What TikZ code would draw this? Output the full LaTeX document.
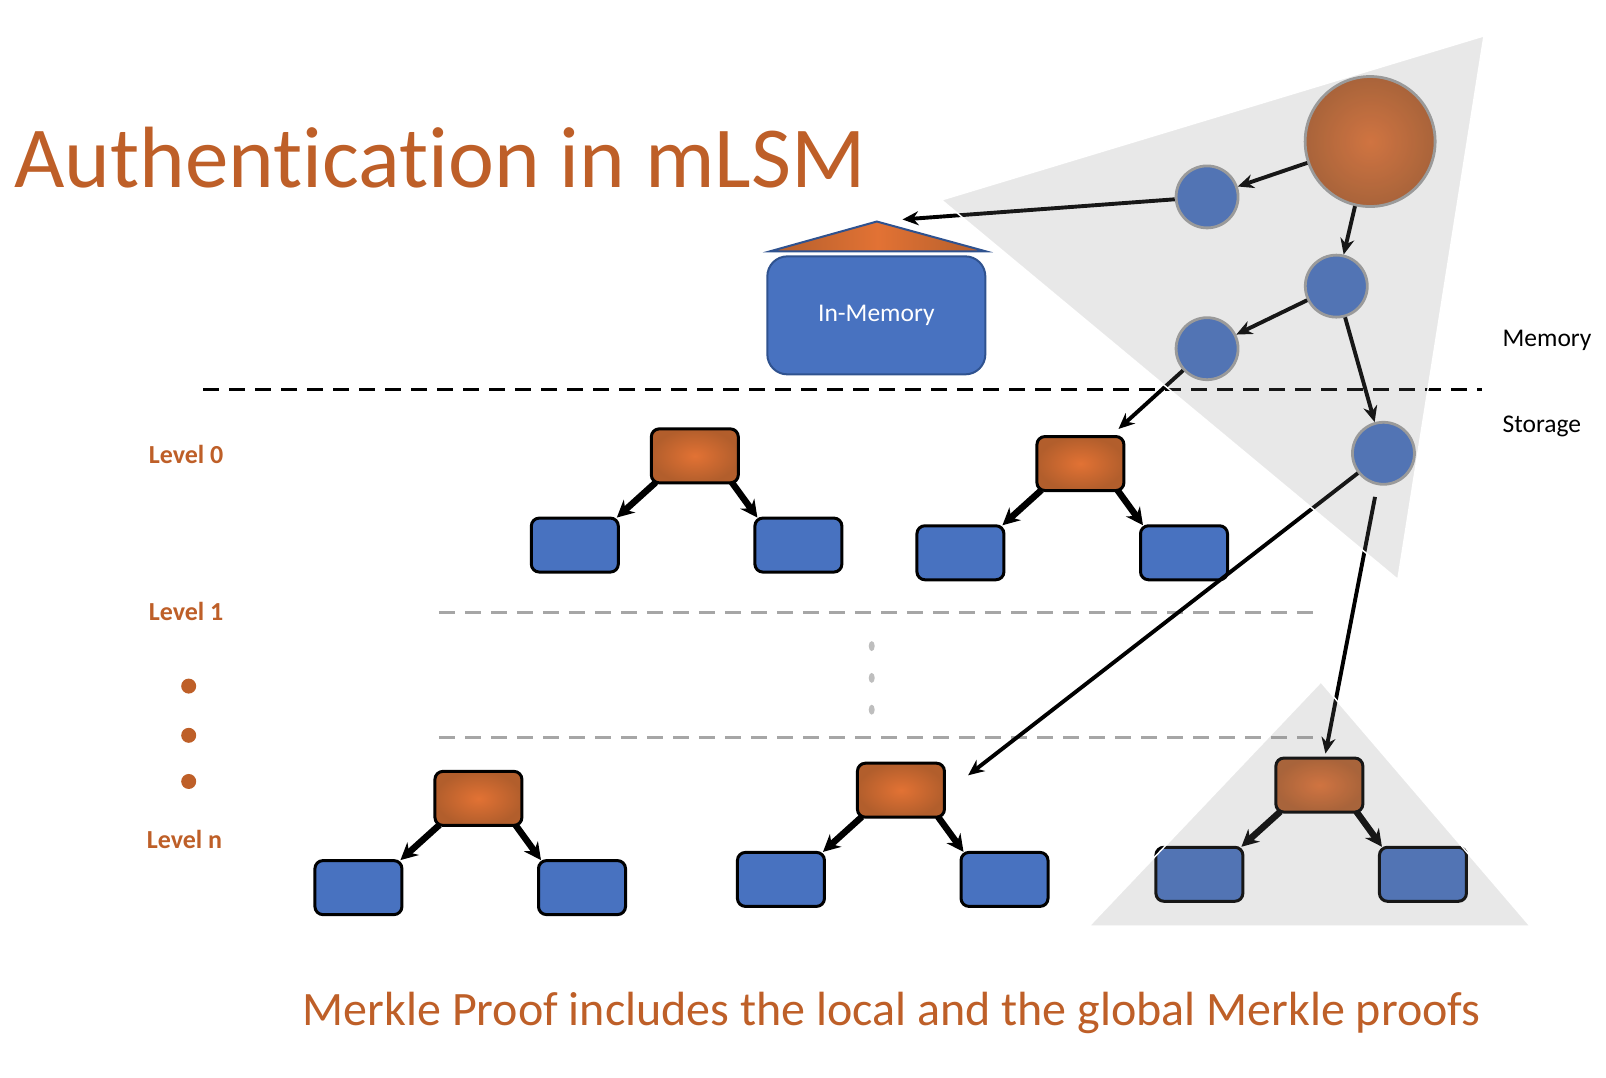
\documentclass[tikz,border=0pt]{standalone}
\usepackage{fontspec}
\setmainfont{Carlito}[Ligatures=NoCommon]
\usetikzlibrary{arrows.meta,calc,shapes.geometric}
\definecolor{morange}{RGB}{190,95,40}
\definecolor{mblue}{RGB}{72,114,192}
\definecolor{mborder}{RGB}{47,82,143}
\definecolor{cgray}{RGB}{160,160,160}
\definecolor{oin}{RGB}{226,114,52}
\definecolor{oout}{RGB}{178,94,44}
\definecolor{dgray}{RGB}{166,166,166}
\definecolor{lgray}{RGB}{190,190,190}
\newcommand\mtree[2]{%
  \node[troot] (#1r) at #2 {};
  \node[leaf] (#1a) at ($#2+(-117,87)$) {};
  \node[leaf] (#1b) at ($#2+(101,87)$) {};
  \draw[tarr] ($(#1r.south west)+(6pt,2pt)$) -- ($(#1a.north east)+(-3pt,-1pt)$);
  \draw[tarr] ($(#1r.south east)+(-8pt,2pt)$) -- ($(#1b.north west)+(4pt,-1pt)$);
}
\tikzset{
  leaf/.style={rectangle, rounded corners=8pt, draw=black, line width=3pt, fill=mblue, minimum width=87pt, minimum height=54pt, inner sep=0pt},
  troot/.style={rectangle, rounded corners=8pt, draw=black, line width=3pt, inner color=oin, outer color=oout, minimum width=87pt, minimum height=54pt, inner sep=0pt},
  bnode/.style={circle, draw=cgray, line width=2.8pt, fill=mblue, minimum size=62pt, inner sep=0pt},
  rootc/.style={circle, draw=cgray, line width=2.8pt, inner color=oin, outer color=oout, minimum size=130pt, inner sep=0pt},
  parr/.style={-{Stealth[length=16pt,width=14pt]}, line width=3.9pt, black},
  tarr/.style={-{Stealth[length=17pt,width=17pt]}, line width=6.5pt, black},
  shadetri/.style={fill=gray, fill opacity=0.18, draw=white, line width=1.4pt},
  lvl/.style={anchor=base west, font=\bfseries\fontsize{26}{26}\selectfont, text=morange, inner sep=0pt},
  side/.style={anchor=base west, font=\fontsize{25.5}{25.5}\selectfont, text=black, inner sep=0pt},
  odot/.style={circle, fill=morange, minimum size=15pt, inner sep=0pt},
  gdot/.style={ellipse, fill=lgray, minimum width=6pt, minimum height=10pt, inner sep=0pt},
  mdash/.style={line width=3.4pt, dash pattern=on 16pt off 10pt},
}
\begin{document}
\begin{tikzpicture}[x=1.0255pt,y=-1.0255pt]
\useasboundingbox (0,0) rectangle (1566,1051);
% title
\node[anchor=base west, inner sep=0pt, font=\fontsize{87}{87}\selectfont, text=morange] (title) at (14,183) {Authentication in mLSM};
% memory / storage divider
\coordinate (d1) at (198,380);
\coordinate (d2) at (1445,380);
\draw[mdash, black] (d1) -- (d2);
\node[side] (memlbl) at (1465,338) {Memory};
\node[side] (stolbl) at (1465,422) {Storage};
% in-memory component
\node[rectangle, rounded corners=20pt, fill=mblue, draw=mborder, line width=2pt, minimum width=218pt, minimum height=118pt, text=white, font=\fontsize{25.5}{25.5}\selectfont] (mem) at (854.5,307.5) {In-Memory};
\coordinate (apex) at (855,216);
\coordinate (tl) at (751,245);
\coordinate (tr) at (961,245);
\shade[left color=oout, right color=oout, middle color=oin, draw=mborder, line width=2pt] (tl) -- (apex) -- (tr) -- cycle;
\coordinate (memtip) at (880,214);
% global tree
\node[rootc] (R) at (1336,138) {};
\node[bnode] (A) at (1177,192) {};
\node[bnode] (B) at (1303,279) {};
\node[bnode] (C) at (1177,340) {};
\node[bnode] (D) at (1349,442) {};
% level labels
\node[lvl] (l0) at (145,452) {Level 0};
\node[lvl] (l1) at (145,605) {Level 1};
\node[lvl] (ln) at (143,827) {Level n};
\node[odot] (o1) at (184,669) {};
\node[odot] (o2) at (184,717) {};
\node[odot] (o3) at (184,762) {};
% gray dashed lines
\coordinate (g1a) at (428,597);
\coordinate (g1b) at (1283,597);
\coordinate (g2a) at (428,719);
\coordinate (g2b) at (1283,719);
\draw[mdash, dgray] (g1a) -- (g1b);
\draw[mdash, dgray] (g2a) -- (g2b);
\node[gdot] (v1) at (850,630) {};
\node[gdot] (v2) at (850,661) {};
\node[gdot] (v3) at (850,692) {};
% trees
\mtree{p}{(677.5,444.5)}
\mtree{q}{(1053.5,452)}
\mtree{s}{(466.5,778.5)}
\mtree{t}{(878.5,770.5)}
\mtree{u}{(1286.5,765.5)}
\coordinate (ttip) at (944,756);
% proof arrows
\draw[parr] (R) -- (A);
\draw[parr] (A) -- (memtip);
\draw[parr] (R) -- (B);
\draw[parr] (B) -- (C);
\draw[parr] (B) -- (D);
\draw[parr, shorten >=9pt] (C) -- (qr);
\draw[parr] (D) -- (ttip);
\draw[parr, shorten <=12pt, shorten >=3pt] (D) -- (ur);
% shaded proof regions
\coordinate (b1) at (918,195);
\coordinate (b2) at (1447,35);
\coordinate (b3) at (1363,565);
\draw[shadetri] (b1) -- (b2) -- (b3) -- cycle;
\coordinate (c1) at (1062,903);
\coordinate (c2) at (1288,665);
\coordinate (c3) at (1492,903);
\draw[shadetri] (c1) -- (c2) -- (c3) -- cycle;
% caption
\node[anchor=base west, inner sep=0pt, font=\fontsize{48}{48}\selectfont, text=morange] (cap) at (295,1000) {Merkle Proof includes the local and the global Merkle proofs};
\end{tikzpicture}
\end{document}
